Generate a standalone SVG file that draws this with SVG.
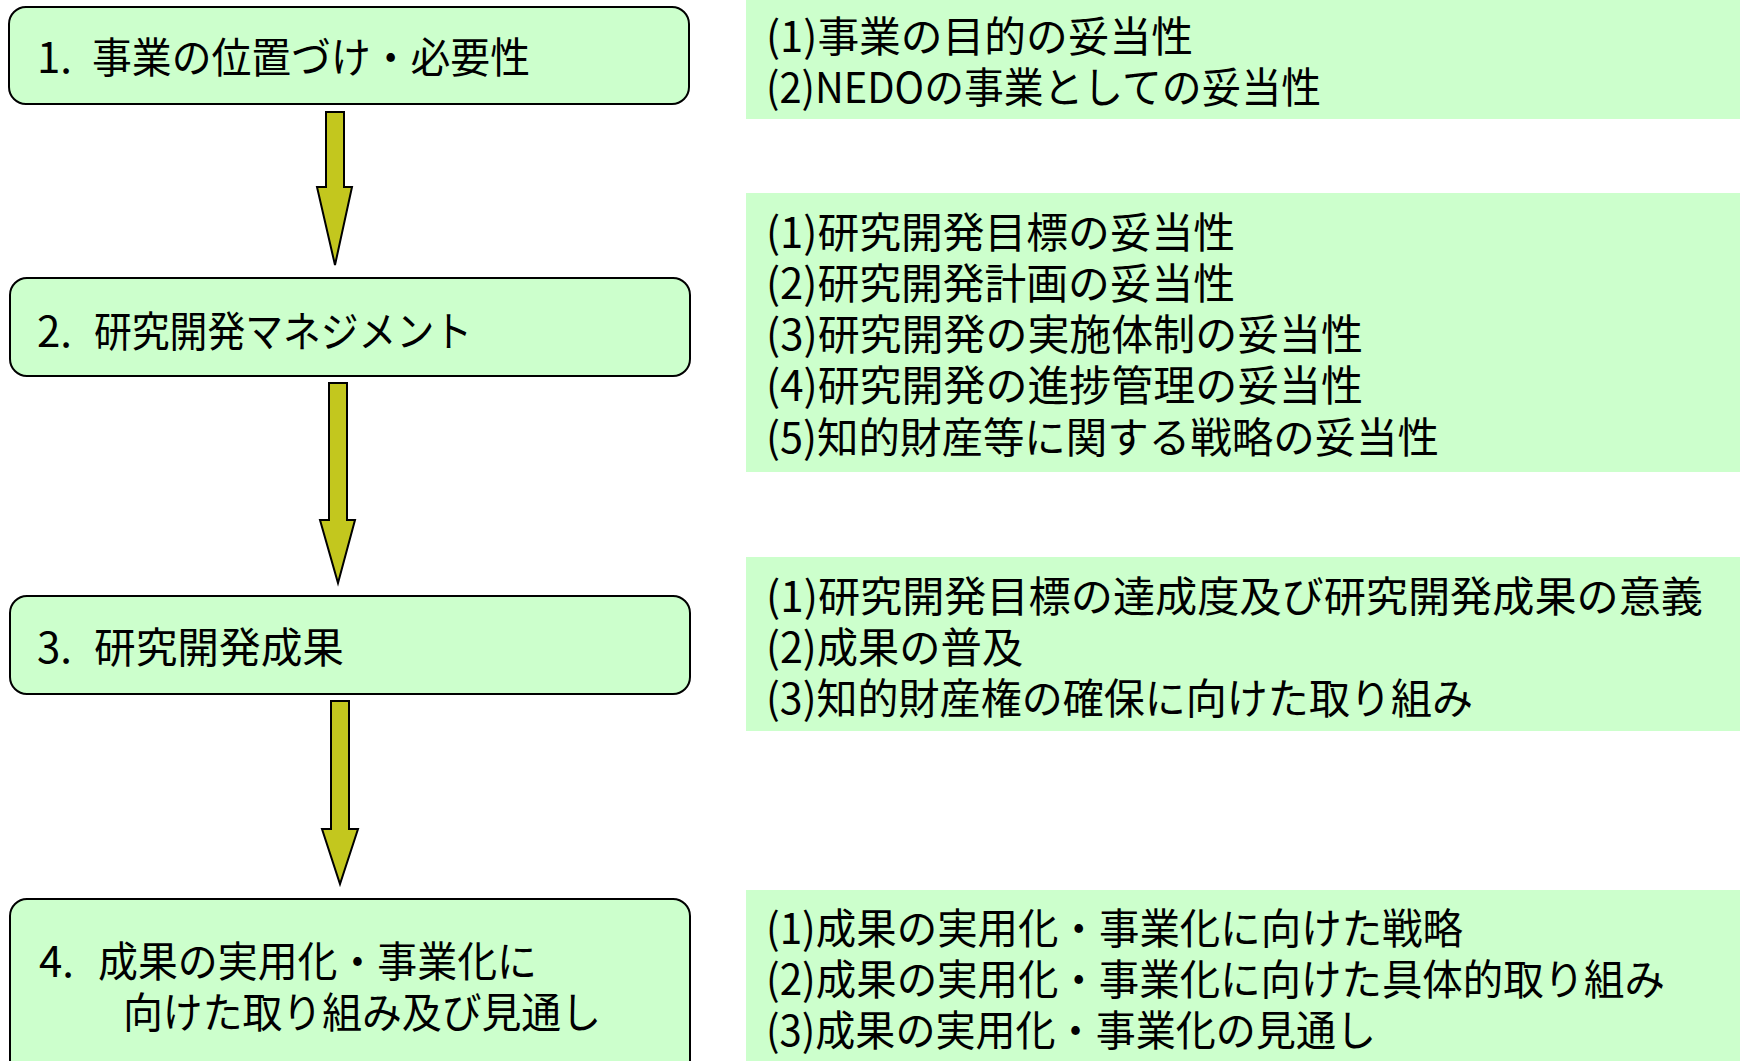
<svg xmlns="http://www.w3.org/2000/svg" width="1740" height="1061" viewBox="0 0 1740 1061">
<style>
.box{fill:#CCFFCC;stroke:#000;stroke-width:2}
.panel{fill:#CCFFCC;stroke:none}
.arrow{fill:#C3C71E;stroke:#000;stroke-width:2;stroke-linejoin:miter}
text{font-family:"Noto Sans CJK JP","Noto Sans CJK SC",sans-serif;font-size:42px;fill:#000}
</style>
<rect width="1740" height="1061" fill="#FFFFFF"/>
<g id="connectors">
<path class="arrow" d="M326,112 H344 V187 H352 L335,265 L317,187 H326 Z"/>
<path class="arrow" d="M329,383 H347 V520 H355 L338,583 L320,520 H329 Z"/>
<path class="arrow" d="M331,701 H349 V829 H358 L340,884 L322,829 H331 Z"/>
</g>
<g id="node1">
<rect class="box" x="9" y="7" width="680" height="97" rx="17"/>
<text y="73"><tspan x="37">1.</tspan><tspan x="92" textLength="438" lengthAdjust="spacingAndGlyphs">事業の位置づけ・必要性</tspan></text>
</g>
<g id="node2">
<rect class="box" x="10" y="278" width="680" height="98" rx="17"/>
<text y="347"><tspan x="37">2.</tspan><tspan x="94" textLength="378" lengthAdjust="spacingAndGlyphs">研究開発マネジメント</tspan></text>
</g>
<g id="node3">
<rect class="box" x="10" y="596" width="680" height="98" rx="17"/>
<text y="663"><tspan x="37">3.</tspan><tspan x="94" textLength="250" lengthAdjust="spacingAndGlyphs">研究開発成果</tspan></text>
</g>
<g id="node4">
<rect class="box" x="10" y="899" width="680" height="200" rx="17"/>
<text y="977"><tspan x="39">4.</tspan><tspan x="98" textLength="439" lengthAdjust="spacingAndGlyphs">成果の実用化・事業化に</tspan></text>
<text x="123" y="1028" textLength="478" lengthAdjust="spacingAndGlyphs">向けた取り組み及び見通し</text>
</g>
<g id="panel1">
<rect class="panel" x="746" y="0" width="994" height="119"/>
<text x="766" y="52" textLength="427" lengthAdjust="spacingAndGlyphs">(1)事業の目的の妥当性</text>
<text x="766" y="103" textLength="555" lengthAdjust="spacingAndGlyphs">(2)NEDOの事業としての妥当性</text>
</g>
<g id="panel2">
<rect class="panel" x="746" y="193" width="994" height="279"/>
<text x="766" y="248" textLength="469" lengthAdjust="spacingAndGlyphs">(1)研究開発目標の妥当性</text>
<text x="766" y="299" textLength="469" lengthAdjust="spacingAndGlyphs">(2)研究開発計画の妥当性</text>
<text x="766" y="350" textLength="597" lengthAdjust="spacingAndGlyphs">(3)研究開発の実施体制の妥当性</text>
<text x="766" y="401" textLength="597" lengthAdjust="spacingAndGlyphs">(4)研究開発の進捗管理の妥当性</text>
<text x="766" y="453" textLength="673" lengthAdjust="spacingAndGlyphs">(5)知的財産等に関する戦略の妥当性</text>
</g>
<g id="panel3">
<rect class="panel" x="746" y="557" width="994" height="174"/>
<text x="766" y="612" textLength="937" lengthAdjust="spacingAndGlyphs">(1)研究開発目標の達成度及び研究開発成果の意義</text>
<text x="766" y="663" textLength="257" lengthAdjust="spacingAndGlyphs">(2)成果の普及</text>
<text x="766" y="714" textLength="707" lengthAdjust="spacingAndGlyphs">(3)知的財産権の確保に向けた取り組み</text>
</g>
<g id="panel4">
<rect class="panel" x="746" y="890" width="994" height="171"/>
<text x="766" y="944" textLength="697" lengthAdjust="spacingAndGlyphs">(1)成果の実用化・事業化に向けた戦略</text>
<text x="766" y="995" textLength="899" lengthAdjust="spacingAndGlyphs">(2)成果の実用化・事業化に向けた具体的取り組み</text>
<text x="766" y="1046" textLength="610" lengthAdjust="spacingAndGlyphs">(3)成果の実用化・事業化の見通し</text>
</g>
</svg>
